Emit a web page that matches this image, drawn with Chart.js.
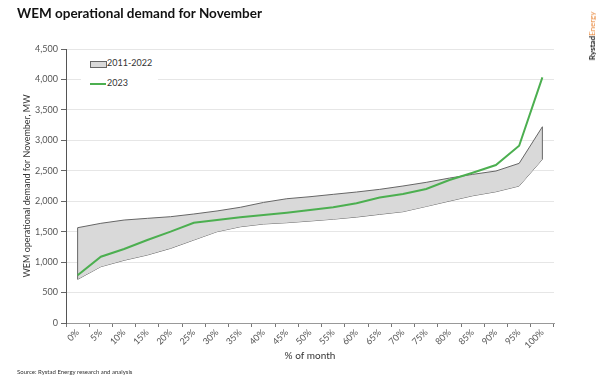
<!DOCTYPE html>
<html><head><meta charset="utf-8">
<script src="https://cdn.jsdelivr.net/npm/chart.js@4"></script>
<style>
html,body{margin:0;padding:0;background:#fff;}
#wrap{position:relative;width:600px;height:380px;overflow:hidden;font-family:Lato,"Liberation Sans",sans-serif;}
#c{position:absolute;left:0;top:0;}
#title{position:absolute;left:17px;top:5px;font-size:13.5px;font-weight:bold;color:#111;white-space:nowrap;}
#src{position:absolute;left:17px;top:368px;font-size:6px;color:#333;white-space:nowrap;}
#logo{position:absolute;left:592px;top:36px;transform:translate(-50%,-50%) rotate(-90deg);font-size:8px;font-weight:bold;white-space:nowrap;color:#222;}
#logo span{color:#e8873a;font-weight:normal;}
#legend{position:absolute;left:81px;top:56px;width:77px;height:38px;background:#fff;font-size:9px;color:#333;}
.li{position:absolute;left:9px;height:12px;white-space:nowrap;}
.sw1{position:absolute;left:0;top:3px;width:15px;height:5px;background:#d9d9d9;border:1px solid #666;}
.sw2{position:absolute;left:0;top:5px;width:16px;height:2px;background:#4caf50;}
.lt{position:absolute;left:17px;top:-1px;}
</style></head>
<body><div id="wrap">
<canvas id="c" width="600" height="380"></canvas>
<div id="title">WEM operational demand for November</div>
<div id="src">Source: Rystad Energy research and analysis</div>
<div id="logo">Rystad<span>Energy</span></div>
<div id="legend">
  <div class="li" style="top:2px"><div class="sw1"></div><div class="lt">2011-2022</div></div>
  <div class="li" style="top:22px"><div class="sw2"></div><div class="lt">2023</div></div>
</div>
</div>
<script>
const categories = ["0%","5%","10%","15%","20%","25%","30%","35%","40%","45%","50%","55%","60%","65%","70%","75%","80%","85%","90%","95%","100%"];
const band2011Low  = [717, 925, 1030, 1117, 1226, 1363, 1500, 1581, 1626, 1647, 1675, 1705, 1740, 1785, 1828, 1915, 2003, 2090, 2156, 2250, 2688];
const band2011High = [1565, 1637, 1691, 1719, 1746, 1790, 1840, 1900, 1980, 2041, 2074, 2113, 2151, 2195, 2250, 2310, 2380, 2441, 2496, 2622, 3223];
const demand2023   = [783, 1089, 1215, 1363, 1500, 1647, 1691, 1735, 1773, 1811, 1855, 1900, 1966, 2060, 2120, 2200, 2348, 2468, 2594, 2911, 4034];
const yTicks = [0,500,1000,1500,2000,2500,3000,3500,4000,4500];

const font = "Lato, 'Liberation Sans', sans-serif";
const edgePlugin = {
  id: 'edges',
  afterDatasetDraw(chart, args) {
    if (args.index !== 2) return;
    const lo = chart.getDatasetMeta(1).data, hi = chart.getDatasetMeta(2).data;
    const ctx = chart.ctx;
    ctx.save();
    ctx.strokeStyle = '#666'; ctx.lineWidth = 1;
    [0, lo.length - 1].forEach(i => {
      ctx.beginPath(); ctx.moveTo(lo[i].x, lo[i].y); ctx.lineTo(hi[i].x, hi[i].y); ctx.stroke();
    });
    ctx.restore();
  }
};

new Chart(document.getElementById('c'), {
  type: 'line',
  data: {
    labels: categories,
    datasets: [
      { label: '2023', data: demand2023, borderColor: '#4caf50', borderWidth: 2, pointRadius: 0, tension: 0, fill: false, order: 0 },
      { label: 'low', data: band2011Low, borderColor: '#666', borderWidth: 1, pointRadius: 0, tension: 0, fill: false, order: 2 },
      { label: '2011-2022', data: band2011High, borderColor: '#666', borderWidth: 1, pointRadius: 0, tension: 0, fill: '-1', backgroundColor: '#d9d9d9', order: 1 }
    ]
  },
  options: {
    responsive: false, animation: false,
    layout: { padding: { left: 0, top: 49, right: 46, bottom: 0 } },
    plugins: { legend: { display: false }, tooltip: { enabled: false } },
    scales: {
      x: {
        offset: true,
        grid: { display: true, drawOnChartArea: false, offset: true, drawTicks: true, tickLength: 4, color: '#777' },
        border: { color: '#999', width: 1 },
        ticks: { minRotation: 45, maxRotation: 45, autoSkip: false, color: '#555', font: { family: font, size: 9 }, padding: 0 },
        title: { display: true, text: '% of month', color: '#333', font: { family: font, size: 10 }, padding: { top: 0, bottom: 18 } },
        afterFit(s) { s.height = 57; }
      },
      y: {
        min: 0, max: 4500,
        afterBuildTicks(s) { s.ticks = yTicks.map(v => ({ value: v })); },
        grid: { color: '#e6e6e6', tickLength: 5, drawTicks: true, tickColor: '#666' },
        border: { color: '#555', width: 1 },
        ticks: { color: '#555', font: { family: font, size: 9 }, padding: 3, callback: v => v.toLocaleString('en-US') },
        title: { display: true, text: 'WEM operational demand for November, MW', color: '#333', font: { family: font, size: 9 }, padding: { top: 22, bottom: 0 } },
        afterFit(s) { s.width = 66; }
      }
    }
  },
  plugins: [edgePlugin]
});
</script>
</body></html>
